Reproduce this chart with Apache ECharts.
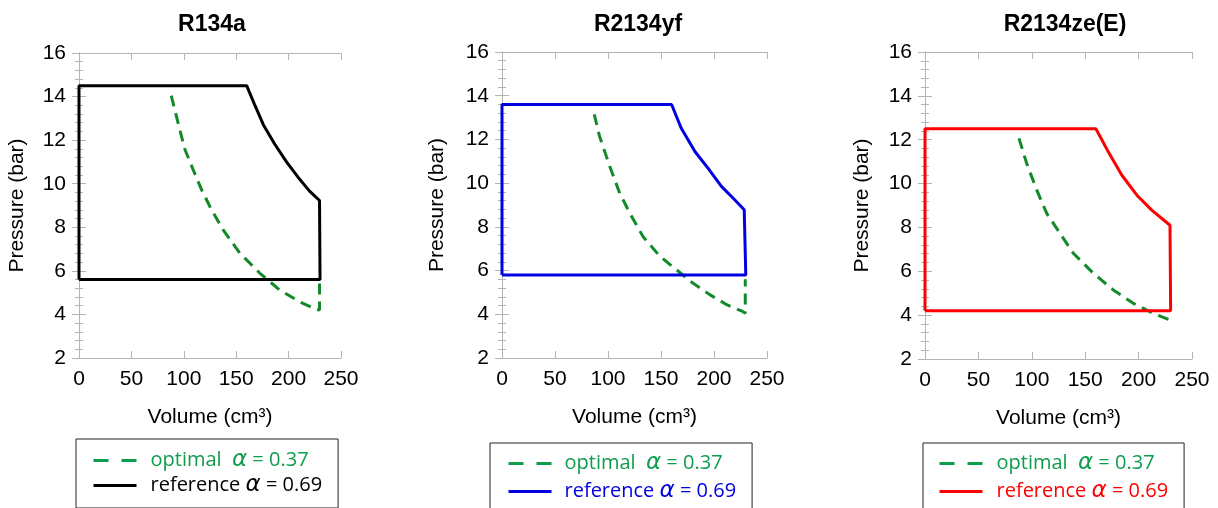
<!DOCTYPE html>
<html>
<head>
<meta charset="utf-8">
<script src="https://cdn.jsdelivr.net/npm/echarts@6/dist/echarts.min.js"></script>
<style>
  html, body { margin: 0; padding: 0; background: #fff; }
  #ec { width: 1218px; height: 508px; }
</style>
</head>
<body>
<div id="ec"></div>
<script>
// panel titles
const panelNames = ["R134a", "R2134yf", "R2134ze(E)"];
const refColors = ["#000000", "#0000e0", "#ff0000"];

// R134a
const r134aRefV = [0, 0, 160, 168, 176, 187, 198, 209, 220, 229.5, 230, 230, 0];
const r134aRefP = [5.6, 14.5, 14.5, 13.58, 12.7, 11.8, 11.0, 10.3, 9.66, 9.23, 9.2, 5.6, 5.6];
const r134aOptV = [88, 94.4, 101, 108.8, 116.8, 126.3, 137.4, 153.3, 172.4, 191.5, 210.6, 226.5, 229.5, 229.5];
const r134aOptP = [14.04, 12.82, 11.58, 10.66, 9.74, 8.82, 7.89, 6.82, 5.9, 5.12, 4.58, 4.23, 4.2, 5.5];

// R2134yf
const yfRefV = [0, 0, 160, 169, 182, 194.3, 207, 219.5, 228.5, 230, 230, 0];
const yfRefP = [5.8, 13.6, 13.6, 12.52, 11.45, 10.69, 9.85, 9.24, 8.78, 8.7, 5.8, 5.8];
const yfOptV = [87, 92, 101.6, 111, 120.5, 133, 149, 164.5, 180, 196, 212, 227, 229.5, 229.5];
const yfOptP = [13.15, 12.15, 10.77, 9.55, 8.63, 7.56, 6.65, 6.04, 5.43, 4.9, 4.44, 4.13, 4.05, 5.6];

// R2134ze(E)
const zeRefV = [0, 0, 160, 171.6, 184.2, 198.2, 212.3, 229.4, 230, 230, 0];
const zeRefP = [4.2, 12.5, 12.5, 11.45, 10.39, 9.48, 8.79, 8.1, 8.05, 4.2, 4.2];
const zeOptV = [88, 95.2, 104.6, 114, 126.4, 138.9, 157.6, 176.3, 195, 213.8, 229.4];
const zeOptP = [12.06, 10.92, 9.71, 8.64, 7.73, 6.82, 5.91, 5.15, 4.54, 4.08, 3.78];

const refSets = [[r134aRefV, r134aRefP], [yfRefV, yfRefP], [zeRefV, zeRefP]];
const optSets = [[r134aOptV, r134aOptP], [yfOptV, yfOptP], [zeOptV, zeOptP]];

function zip(v, p) {
  return v.map((x, i) => [x, p[i]]);
}

const grids = [
  { left: 79, top: 53, width: 262, height: 305 },
  { left: 502, top: 52, width: 265, height: 306 },
  { left: 925, top: 52, width: 267, height: 307 },
];
const titleX = [207, 633, 1060];
const yNameGap = [51, 54, 52];

const frame = "#b4b4b4";
const font = "Liberation Sans";
const optGreen = "#138a2a";
const legGreen = "#0f9c4c";

const xAxes = [];
const yAxes = [];
const series = [];
const titles = [];
const legends = [];

const legendPos = [
  { left: 76, top: 439, padding: [10, 16, 11, 16], gap: 2, space: 9 },
  { left: 490, top: 443, padding: [9, 16, 14, 17], gap: 5, space: 8 },
  { left: 923, top: 443, padding: [9, 16, 14, 15], gap: 5, space: 9 },
];

panelNames.forEach((name, i) => {
  titles.push({
    text: name,
    left: titleX[i],
    top: 8,
    textAlign: "center",
    textStyle: { fontFamily: font, fontSize: 23, fontWeight: "bold", color: "#000" },
  });

  xAxes.push({
    gridIndex: i,
    type: "value",
    min: 0,
    max: 250,
    interval: 50,
    position: "bottom",
    name: "Volume (cm³)",
    nameLocation: "middle",
    nameGap: 49,
    nameTextStyle: { fontFamily: font, fontSize: 21, color: "#000" },
    axisLine: { show: true, lineStyle: { color: frame, width: 1 } },
    axisTick: { show: true, inside: true, length: 7, lineStyle: { color: frame } },
    axisLabel: { fontFamily: font, fontSize: 21, color: "#000", margin: 11 },
    splitLine: { show: false },
  });
  xAxes.push({
    gridIndex: i,
    type: "value",
    min: 0,
    max: 250,
    interval: 50,
    position: "top",
    axisLine: { show: true, lineStyle: { color: frame, width: 1 } },
    axisTick: { show: true, inside: true, length: 7, lineStyle: { color: frame } },
    axisLabel: { show: false },
    splitLine: { show: false },
  });

  yAxes.push({
    gridIndex: i,
    type: "value",
    min: 2,
    max: 16,
    interval: 2,
    position: "left",
    name: "Pressure (bar)",
    nameLocation: "middle",
    nameGap: yNameGap[i],
    nameTextStyle: { fontFamily: font, fontSize: 21, color: "#000" },
    axisLine: { show: true, lineStyle: { color: frame, width: 1 } },
    axisTick: { show: true, inside: true, length: 7, lineStyle: { color: frame } },
    minorTick: { show: true, splitNumber: 5, length: 4, lineStyle: { color: frame } },
    axisLabel: { fontFamily: font, fontSize: 21, color: "#000", margin: 13 },
    splitLine: { show: false },
  });
  yAxes.push({
    gridIndex: i,
    type: "value",
    min: 2,
    max: 16,
    interval: 2,
    position: "right",
    axisLine: { show: true, lineStyle: { color: frame, width: 1 } },
    axisTick: { show: true, inside: true, length: 7, lineStyle: { color: frame } },
    minorTick: { show: true, splitNumber: 5, length: 4, lineStyle: { color: frame } },
    axisLabel: { show: false },
    splitLine: { show: false },
  });

  const optName = "opt" + i;
  const refName = "ref" + i;

  series.push({
    name: optName,
    type: "line",
    xAxisIndex: i * 2,
    yAxisIndex: i * 2,
    data: zip(optSets[i][0], optSets[i][1]),
    symbol: "none",
    lineStyle: { color: optGreen, width: 3, type: [11, 7] },
    itemStyle: { color: optGreen },
    z: 3,
  });
  series.push({
    name: refName,
    type: "line",
    xAxisIndex: i * 2,
    yAxisIndex: i * 2,
    data: zip(refSets[i][0], refSets[i][1]),
    symbol: "none",
    lineStyle: { color: refColors[i], width: 3 },
    itemStyle: { color: refColors[i] },
    z: 4,
  });

  const lp = legendPos[i];
  const rc = refColors[i];
  legends.push({
    orient: "vertical",
    left: lp.left,
    top: lp.top,
    height: 60,
    padding: lp.padding,
    itemGap: lp.gap,
    itemWidth: 43,
    itemHeight: 14,
    borderColor: "#222",
    borderWidth: 1,
    selectedMode: false,
    data: [
      { name: optName, itemStyle: { opacity: 0 }, lineStyle: { color: legGreen, width: 3, type: [15, 13] } },
      { name: refName, itemStyle: { opacity: 0 }, lineStyle: { color: rc, width: 3, type: "solid" } },
    ],
    formatter: function (n) {
      if (n.indexOf("opt") === 0) {
        return "{s| }{g|optimal  }{ga|α}{g| = 0.37}";
      }
      return "{s| }{k|reference }{ka|α}{k| = 0.69}";
    },
    textStyle: {
      rich: {
        s: { width: lp.space, fontSize: 10, lineHeight: 22 },
        g: { color: legGreen, fontFamily: "Open Sans", fontSize: 20, lineHeight: 22 },
        ga: { color: legGreen, fontFamily: "DejaVu Sans", fontStyle: "italic", fontSize: 23, lineHeight: 22 },
        k: { color: rc, fontFamily: "Open Sans", fontSize: 20, lineHeight: 22 },
        ka: { color: rc, fontFamily: "DejaVu Sans", fontStyle: "italic", fontSize: 23, lineHeight: 22 },
      },
    },
  });
});

var myChart = echarts.init(document.getElementById("ec"), null, { renderer: "canvas" });
myChart.setOption({
  animation: false,
  backgroundColor: "#fff",
  title: titles,
  grid: grids.map((g) => Object.assign({ show: false, containLabel: false }, g)),
  xAxis: xAxes,
  yAxis: yAxes,
  legend: legends,
  series: series,
});
</script>
</body>
</html>
